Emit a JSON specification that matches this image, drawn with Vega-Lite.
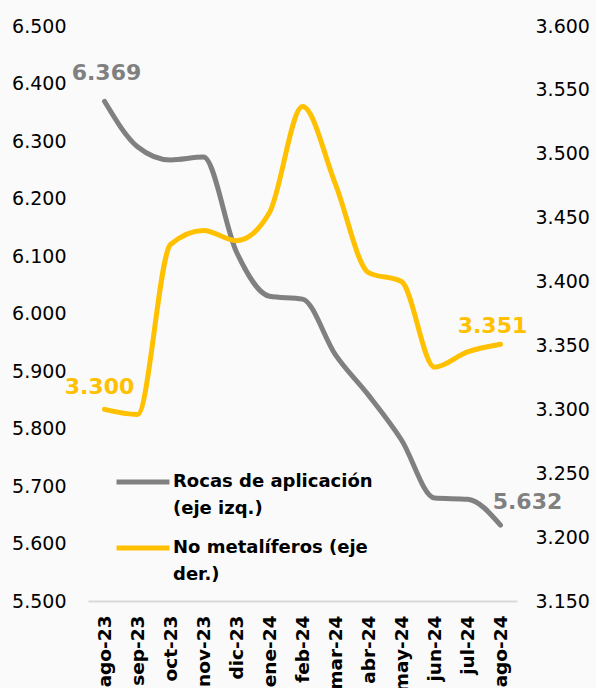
{
  "$schema": "https://vega.github.io/schema/vega-lite/v6.json",
  "autosize": "none",
  "width": 429,
  "height": 575,
  "padding": {"left": 88, "top": 26, "right": 79, "bottom": 87},
  "background": "#fafafa",
  "config": {
    "view": {"stroke": null},
    "font": "DejaVu Sans",
    "axis": {"grid": false, "ticks": false, "labelColor": "#000000", "labelFont": "DejaVu Sans"}
  },
  "data": {
    "values": [
      {"mes": "ago-23", "rocas": 6.369, "nometal": 3.300},
      {"mes": "sep-23", "rocas": 6.290, "nometal": 3.296},
      {"mes": "oct-23", "rocas": 6.267, "nometal": 3.429},
      {"mes": "nov-23", "rocas": 6.272, "nometal": 3.440},
      {"mes": "dic-23", "rocas": 6.107, "nometal": 3.432},
      {"mes": "ene-24", "rocas": 6.030, "nometal": 3.454},
      {"mes": "feb-24", "rocas": 6.025, "nometal": 3.537},
      {"mes": "mar-24", "rocas": 5.928, "nometal": 3.476},
      {"mes": "abr-24", "rocas": 5.858, "nometal": 3.407},
      {"mes": "may-24", "rocas": 5.780, "nometal": 3.400},
      {"mes": "jun-24", "rocas": 5.679, "nometal": 3.333},
      {"mes": "jul-24", "rocas": 5.677, "nometal": 3.345},
      {"mes": "ago-24", "rocas": 5.632, "nometal": 3.351}
    ]
  },
  "encoding": {
    "x": {
      "field": "mes",
      "type": "ordinal",
      "sort": null,
      "scale": {"type": "point", "padding": 0.5},
      "axis": {
        "title": null,
        "labelAngle": -90,
        "labelFontSize": 18.5,
        "labelFontWeight": "bold",
        "labelPadding": 14,
        "domainColor": "#d9d9d9",
        "domainWidth": 2
      }
    }
  },
  "layer": [
    {
      "encoding": {
        "y": {
          "field": "rocas",
          "type": "quantitative",
          "scale": {"domain": [5.5, 6.5], "zero": false},
          "axis": {
            "title": null,
            "orient": "left",
            "values": [5.5, 5.6, 5.7, 5.8, 5.9, 6.0, 6.1, 6.2, 6.3, 6.4, 6.5],
            "format": ".3f",
            "domain": false,
            "labelFontSize": 19,
            "labelPadding": 22
          }
        }
      },
      "layer": [
        {
          "mark": {"type": "line", "interpolate": "monotone", "strokeWidth": 5, "strokeCap": "round"},
          "encoding": {
            "color": {
              "datum": "Rocas de aplicación (eje izq.)",
              "type": "nominal",
              "scale": {
                "domain": ["Rocas de aplicación (eje izq.)", "No metalíferos (eje der.)"],
                "range": ["#808080", "#FFC000"]
              },
              "legend": {
                "title": null,
                "orient": "none",
                "legendX": 26,
                "legendY": 427,
                "symbolType": "stroke",
                "symbolSize": 2800,
                "symbolStrokeWidth": 5,
                "labelFontSize": 18,
                "labelFontWeight": "bold",
                "labelColor": "#000000",
                "labelLimit": 300,
                "rowPadding": 1,
                "labelOffset": 1,
                "labelExpr": "datum.label == 'Rocas de aplicación (eje izq.)' ? ['Rocas de aplicación', '(eje izq.)'] : ['No metalíferos (eje', 'der.)']",
                "encode": {"labels": {"update": {"lineHeight": {"value": 27}}}}
              }
            }
          }
        },
        {
          "transform": [{"filter": "datum.mes == 'ago-23'"}],
          "mark": {"type": "text", "fontSize": 22, "fontWeight": "bold", "color": "#808080", "dy": -28, "dx": 2},
          "encoding": {"text": {"field": "rocas", "type": "quantitative", "format": ".3f"}}
        },
        {
          "transform": [{"filter": "datum.mes == 'ago-24'"}],
          "mark": {"type": "text", "fontSize": 22, "fontWeight": "bold", "color": "#808080", "dy": -23, "dx": 27},
          "encoding": {"text": {"field": "rocas", "type": "quantitative", "format": ".3f"}}
        }
      ]
    },
    {
      "encoding": {
        "y": {
          "field": "nometal",
          "type": "quantitative",
          "scale": {"domain": [3.15, 3.6], "zero": false},
          "axis": {
            "title": null,
            "orient": "right",
            "values": [3.15, 3.2, 3.25, 3.3, 3.35, 3.4, 3.45, 3.5, 3.55, 3.6],
            "format": ".3f",
            "domain": false,
            "labelFontSize": 19,
            "labelPadding": 18
          }
        }
      },
      "layer": [
        {
          "mark": {"type": "line", "interpolate": "monotone", "strokeWidth": 5, "strokeCap": "round"},
          "encoding": {
            "color": {"datum": "No metalíferos (eje der.)", "type": "nominal"}
          }
        },
        {
          "transform": [{"filter": "datum.mes == 'ago-23'"}],
          "mark": {"type": "text", "fontSize": 22, "fontWeight": "bold", "color": "#FFC000", "dy": -22, "dx": -5},
          "encoding": {"text": {"field": "nometal", "type": "quantitative", "format": ".3f"}}
        },
        {
          "transform": [{"filter": "datum.mes == 'ago-24'"}],
          "mark": {"type": "text", "fontSize": 22, "fontWeight": "bold", "color": "#FFC000", "dy": -18, "dx": -8},
          "encoding": {"text": {"field": "nometal", "type": "quantitative", "format": ".3f"}}
        }
      ]
    }
  ],
  "resolve": {"scale": {"y": "independent", "color": "shared"}}
}
